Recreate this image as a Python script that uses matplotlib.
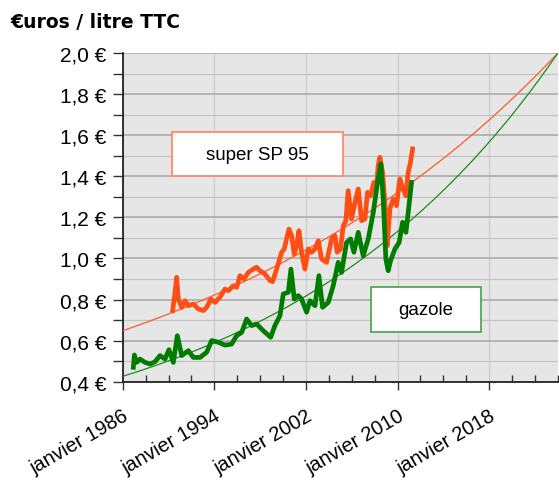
import numpy as np
import matplotlib.pyplot as plt
from matplotlib.patches import Rectangle
from matplotlib.ticker import MultipleLocator, FixedLocator

# prix moyens mensuels (euros / litre TTC)
gazole_annee = [1986.93, 1987.02, 1987.22, 1987.51, 1987.95, 1988.39, 1988.82, 1989.26,
                1989.69, 1990.04, 1990.42, 1990.77, 1991.15, 1991.73, 1992.17, 1992.75,
                1993.33, 1993.77, 1994.35, 1994.93, 1995.51, 1995.95, 1996.39, 1996.82,
                1997.26, 1997.69, 1998.28, 1998.92, 1999.29, 1999.73, 2000.02, 2000.46,
                2000.69, 2000.98, 2001.33, 2001.62, 2002.06, 2002.35, 2002.79, 2003.13,
                2003.45, 2003.95, 2004.38, 2004.82, 2005.11, 2005.55, 2005.90, 2006.19,
                2006.57, 2007.00, 2007.44, 2007.88, 2008.25, 2008.54, 2008.75, 2008.98,
                2009.18, 2009.39, 2009.77, 2010.14, 2010.44, 2010.73, 2010.93, 2011.22]
gazole_prix = [0.470, 0.530, 0.494, 0.510, 0.494, 0.486, 0.497, 0.527,
               0.510, 0.556, 0.494, 0.624, 0.527, 0.551, 0.518, 0.518,
               0.543, 0.600, 0.592, 0.578, 0.583, 0.624, 0.640, 0.705,
               0.673, 0.681, 0.648, 0.616, 0.673, 0.721, 0.827, 0.835,
               0.948, 0.802, 0.819, 0.802, 0.738, 0.794, 0.770, 0.916,
               0.762, 0.786, 0.867, 0.981, 0.932, 1.078, 1.095, 1.030,
               1.127, 1.013, 1.095, 1.224, 1.370, 1.460, 1.289, 0.997,
               0.940, 0.989, 1.046, 1.078, 1.176, 1.127, 1.224, 1.370]

sp95_annee = [1990.36, 1990.57, 1990.71, 1990.86, 1991.15, 1991.44, 1991.73, 1992.17,
              1992.60, 1993.04, 1993.33, 1993.71, 1994.06, 1994.49, 1994.93, 1995.22,
              1995.66, 1995.95, 1996.24, 1996.59, 1996.97, 1997.40, 1997.69, 1997.99,
              1998.42, 1998.86, 1999.09, 1999.44, 1999.88, 2000.11, 2000.31, 2000.52,
              2000.75, 2000.98, 2001.19, 2001.39, 2001.62, 2001.91, 2002.20, 2002.49,
              2002.79, 2003.08, 2003.37, 2003.80, 2004.24, 2004.53, 2004.73, 2005.02,
              2005.26, 2005.49, 2005.69, 2005.98, 2006.28, 2006.57, 2006.86, 2007.15,
              2007.38, 2007.64, 2007.93, 2008.17, 2008.31, 2008.46, 2008.69, 2008.89,
              2009.10, 2009.33, 2009.62, 2009.91, 2010.20, 2010.49, 2010.73, 2010.93,
              2011.13, 2011.31]
sp95_prix = [0.746, 0.835, 0.908, 0.802, 0.762, 0.794, 0.770, 0.778,
             0.754, 0.746, 0.762, 0.802, 0.786, 0.811, 0.851, 0.843,
             0.867, 0.859, 0.916, 0.900, 0.932, 0.948, 0.957, 0.940,
             0.924, 0.892, 0.887, 0.948, 1.030, 1.046, 1.095, 1.143,
             1.111, 1.021, 1.062, 1.135, 1.030, 0.948, 1.046, 1.030,
             1.046, 1.086, 0.997, 0.981, 1.095, 1.111, 1.030, 1.046,
             1.159, 1.184, 1.330, 1.192, 1.273, 1.338, 1.184, 1.192,
             1.322, 1.305, 1.370, 1.354, 1.452, 1.492, 1.419, 1.273,
             1.062, 1.241, 1.289, 1.257, 1.387, 1.338, 1.305, 1.419,
             1.468, 1.533]

# courbes de tendance exponentielles : valeur en 1986 et en 2024
tendance_annees = [1986, 2024]
tendance_sp95 = [0.648, 2.0]
tendance_gazole = [0.426, 2.0]

annees_ticks = [1986, 1994, 2002, 2010, 2018]
labels_x = ['janvier %d' % a for a in annees_ticks]
prix_ticks = [0.4, 0.6, 0.8, 1.0, 1.2, 1.4, 1.6, 1.8, 2.0]
labels_y = [('%.1f €' % p).replace('.', ',') for p in prix_ticks]

plt.rcParams['font.family'] = ['Liberation Sans', 'DejaVu Sans']

fig = plt.figure(figsize=(5.59, 4.81), dpi=100)
ax = fig.add_axes([0.2195, 0.2044, 0.7785, 0.6833])
ax.set_facecolor('#e6e6e6')


def tendance(debut_fin):
    x = np.linspace(tendance_annees[0], tendance_annees[1], 200)
    k = np.log(debut_fin[1] / debut_fin[0]) / (tendance_annees[1] - tendance_annees[0])
    return x, debut_fin[0] * np.exp(k * (x - tendance_annees[0]))


x, y = tendance(tendance_sp95)
ax.plot(x, y, color='#ff5a2a', lw=0.9, zorder=3)
x, y = tendance(tendance_gazole)
ax.plot(x, y, color='#1c8c1c', lw=0.9, zorder=3)

ax.plot(sp95_annee, sp95_prix, color='#ff4e14', lw=3.4, solid_joinstyle='round', zorder=4)
ax.plot(gazole_annee, gazole_prix, color='#007d00', lw=3.4, solid_joinstyle='round', zorder=5)

ax.set_xlim(1986, 2024)
ax.set_ylim(0.4, 2.0)

ax.xaxis.set_major_locator(FixedLocator(annees_ticks))
ax.xaxis.set_minor_locator(MultipleLocator(2))
ax.set_xticklabels(labels_x, rotation=30, ha='right', va='top', rotation_mode='anchor')
ax.yaxis.set_major_locator(FixedLocator(prix_ticks))
ax.yaxis.set_minor_locator(MultipleLocator(0.1))
ax.set_yticklabels(labels_y)

ax.tick_params(axis='x', which='major', direction='out', length=5.5, width=1,
               color='#333333', labelsize=14.5, pad=12)
ax.tick_params(axis='x', which='minor', direction='in', length=5, width=1, color='#333333')
ax.tick_params(axis='y', which='both', direction='out', length=7, width=1,
               color='#333333', labelsize=15, pad=5)

ax.grid(True, which='major', axis='y', color='#a6a6a6', lw=1.1, zorder=1)
ax.grid(True, which='minor', axis='y', color='#c4c4c4', lw=0.9, zorder=1)
ax.grid(True, which='major', axis='x', color='#cccccc', lw=0.9, zorder=1)
ax.set_axisbelow(True)

for cote in ['top', 'right']:
    ax.spines[cote].set_visible(False)
for cote in ['left', 'bottom']:
    ax.spines[cote].set_color('#222222')
    ax.spines[cote].set_linewidth(1.3)

# cadres des légendes
ax.add_patch(Rectangle((0.1133, 0.6258), 0.3928, 0.1339, transform=ax.transAxes,
                       facecolor='white', edgecolor='#ff8a6a', lw=1.3, zorder=6))
ax.text(0.3097, 0.6927, 'super SP 95', transform=ax.transAxes, fontsize=13.5,
        ha='center', va='center', zorder=7)
ax.add_patch(Rectangle((0.5704, 0.1512), 0.2527, 0.1369, transform=ax.transAxes,
                       facecolor='white', edgecolor='#4faa4f', lw=1.3, zorder=6))
ax.text(0.6968, 0.2197, 'gazole', transform=ax.transAxes, fontsize=13.5,
        ha='center', va='center', zorder=7)

fig.text(10 / 559, 1 - 28 / 481, '€uros / litre TTC', fontsize=13.5, fontweight='bold',
         family='DejaVu Sans', ha='left', va='baseline')

fig.savefig('out.png', dpi=100)
